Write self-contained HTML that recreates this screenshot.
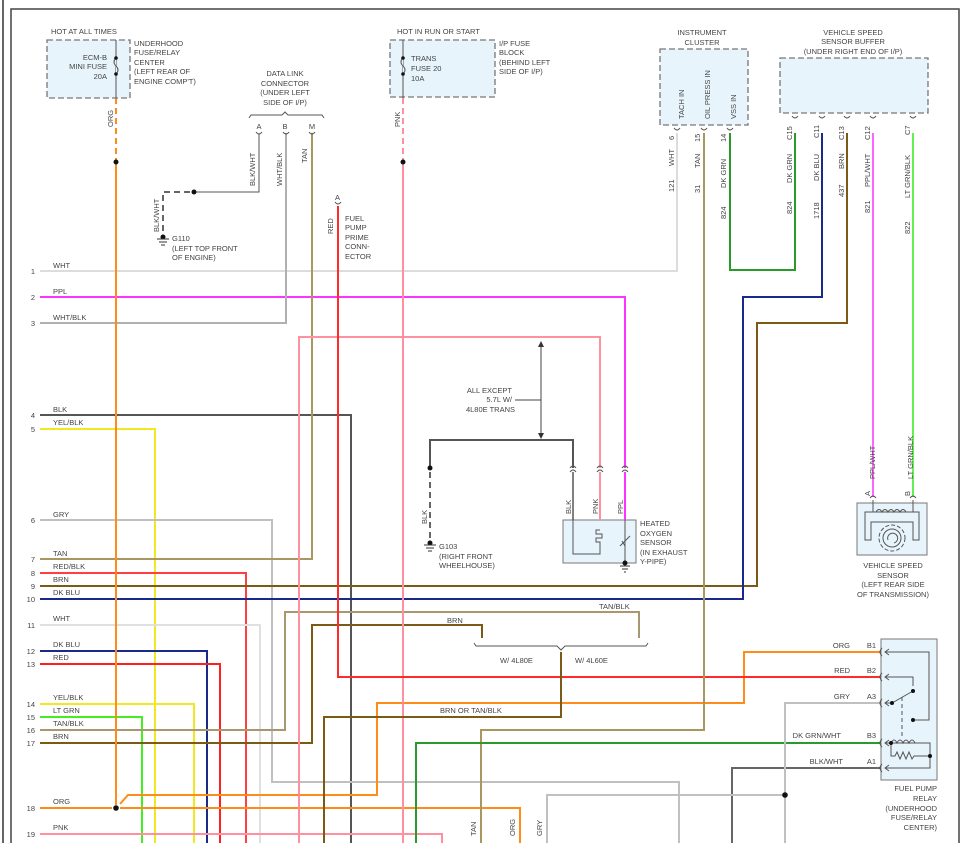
<!DOCTYPE html>
<html><head><meta charset="utf-8"><style>
html,body{margin:0;padding:0;background:#fff}
svg{display:block}
text{font-family:"Liberation Sans",sans-serif;font-size:7.5px;fill:#444}
.w{fill:none;stroke-width:2}
.t{fill:none;stroke:#555;stroke-width:1}
.box{fill:#e8f4fc;stroke:#777;stroke-width:1.3;stroke-dasharray:6,3}
.sbox{fill:#e8f4fc;stroke:#777;stroke-width:1}
</style></head><body>
<svg width="978" height="843" viewBox="0 0 978 843" xmlns="http://www.w3.org/2000/svg">
<!-- frame -->
<line x1="3" y1="0" x2="3" y2="843" stroke="#333" stroke-width="1.5"/>
<polyline points="11,843 11,9 959,9 959,843" fill="none" stroke="#444" stroke-width="1.5"/>

<!-- row numbers and labels -->
<g text-anchor="end">
<text x="35" y="274">1</text><text x="35" y="300">2</text><text x="35" y="326">3</text>
<text x="35" y="418">4</text><text x="35" y="432">5</text><text x="35" y="523">6</text>
<text x="35" y="562">7</text><text x="35" y="576">8</text><text x="35" y="589">9</text>
<text x="35" y="602">10</text><text x="35" y="628">11</text><text x="35" y="654">12</text>
<text x="35" y="667">13</text><text x="35" y="707">14</text><text x="35" y="720">15</text>
<text x="35" y="733">16</text><text x="35" y="746">17</text><text x="35" y="811">18</text>
<text x="35" y="837">19</text>
</g>
<g>
<text x="53" y="268">WHT</text><text x="53" y="294">PPL</text><text x="53" y="320">WHT/BLK</text>
<text x="53" y="412">BLK</text><text x="53" y="425">YEL/BLK</text><text x="53" y="517">GRY</text>
<text x="53" y="556">TAN</text><text x="53" y="569">RED/BLK</text><text x="53" y="582">BRN</text>
<text x="53" y="595">DK BLU</text><text x="53" y="621">WHT</text><text x="53" y="647">DK BLU</text>
<text x="53" y="660">RED</text><text x="53" y="700">YEL/BLK</text><text x="53" y="713">LT GRN</text>
<text x="53" y="726">TAN/BLK</text><text x="53" y="739">BRN</text><text x="53" y="804">ORG</text>
<text x="53" y="830">PNK</text>
</g>

<!-- wires -->
<polyline class="w" stroke="#dcdcdc" points="40,271 677,271 677,133"/>
<polyline class="w" stroke="#ff33ff" points="40,297 625,297 625,468"/>
<polyline class="w" stroke="#b0b0b0" points="40,323 286,323 286,133"/>
<polyline class="w" stroke="#555" points="40,415 351,415 351,843"/>
<polyline class="w" stroke="#f0e820" points="40,429 155,429 155,843"/>
<polyline class="w" stroke="#c0c0c0" points="40,520 272,520 272,782 679,782 679,843"/>
<polyline class="w" stroke="#a89860" points="40,559 312,559 312,133"/>
<polyline class="w" stroke="#ff4040" points="40,573 246,573 246,843"/>
<polyline class="w" stroke="#7a5a14" points="40,586 757,586 757,323 847,323 847,133"/>
<polyline class="w" stroke="#1a2a8a" points="40,599 743,599 743,297 822,297 822,133"/>
<polyline class="w" stroke="#e0e0e0" points="40,625 260,625 260,843"/>
<polyline class="w" stroke="#1a2a8a" points="40,651 207,651 207,843"/>
<polyline class="w" stroke="#ff2020" points="40,664 220,664 220,843"/>
<polyline class="w" stroke="#f0e820" points="40,704 194,704 194,843"/>
<polyline class="w" stroke="#44ee22" points="40,717 142,717 142,843"/>
<polyline class="w" stroke="#a89870" points="40,730 285,730 285,612 639,612 639,638"/>
<polyline class="w" stroke="#7a5a14" points="40,743 312,743 312,625 482,625 482,638"/>
<polyline class="w" stroke="#ff8c1a" points="40,808 112,808"/>
<polyline class="w" stroke="#ff8c1a" points="120,808 520,808 520,843"/>
<polyline class="w" stroke="#ff8c1a" points="120,804 128,795 377,795 377,703 744,703 744,652 880,652"/>
<polyline class="w" stroke="#ff90a0" points="40,834 442,834 442,843"/>
<!-- ORG from fuse -->
<line x1="116" y1="98" x2="116" y2="162" stroke="#ff8c1a" stroke-width="2" stroke-dasharray="6,4"/>
<line x1="116" y1="162" x2="116" y2="805" stroke="#ff8c1a" stroke-width="2"/>
<circle cx="116" cy="162" r="2.5" fill="#111"/>
<circle cx="116" cy="808" r="2.8" fill="#111"/>
<!-- PNK from trans fuse -->
<line x1="403" y1="98" x2="403" y2="162" stroke="#ff90a0" stroke-width="2" stroke-dasharray="6,4"/>
<line x1="403" y1="162" x2="403" y2="843" stroke="#ff90a0" stroke-width="2"/>
<circle cx="403" cy="162" r="2.5" fill="#111"/>
<polyline class="w" stroke="#ff90a0" points="299,843 299,337 600,337 600,468"/>
<!-- RED fuel pump prime -->
<polyline class="w" stroke="#ff2a2a" points="338,206 338,677 880,677"/>
<path d="M335,202 Q338,206 341,202" fill="none" stroke="#555"/>
<text x="335" y="200">A</text>
<text x="333" y="234" transform="rotate(-90 333 234)" text-anchor="start">RED</text>
<text x="345" y="221">FUEL</text><text x="345" y="230">PUMP</text><text x="345" y="240">PRIME</text><text x="345" y="249">CONN-</text><text x="345" y="259">ECTOR</text>
<!-- TAN oil press -->
<polyline class="w" stroke="#a89860" points="704,133 704,730 481,730 481,843"/>
<!-- DK GRN -->
<polyline class="w" stroke="#2a9a2a" points="730,133 730,270 795,270 795,133"/>
<polyline class="w" stroke="#ff66ff" points="873,133 873,497"/>
<polyline class="w" stroke="#66ee55" points="913,133 913,497"/>
<!-- brown bracket wire -->
<polyline class="w" stroke="#7a5a14" points="561,652 561,717 324,717 324,843"/>
<polyline class="w" stroke="#2a9a2a" points="416,843 416,743 880,743"/>
<polyline class="w" stroke="#666" points="732,843 732,768 880,768"/>
<polyline class="w" stroke="#c0c0c0" points="880,703 785,703 785,843"/>
<polyline class="w" stroke="#c0c0c0" points="547,843 547,795 785,795"/>
<circle cx="785" cy="795" r="2.8" fill="#111"/>
<text x="515" y="836" transform="rotate(-90 515 836)">ORG</text>
<text x="476" y="836" transform="rotate(-90 476 836)">TAN</text>
<text x="542" y="836" transform="rotate(-90 542 836)">GRY</text>
<text x="440" y="713">BRN OR TAN/BLK</text>
<text x="447" y="623">BRN</text>
<text x="599" y="609">TAN/BLK</text>
<!-- 4L80E/4L60E bracket -->
<path d="M474,643 L476,646 L557,646 L561,650 L565,646 L646,646 L648,643" fill="none" stroke="#555"/>
<text x="500" y="663">W/ 4L80E</text><text x="575" y="663">W/ 4L60E</text>

<!-- ECM-B box -->
<rect class="box" x="47" y="40" width="83" height="58"/>
<line x1="116" y1="40" x2="116" y2="98" stroke="#555"/>
<path d="M116,58 q-4,4 0,8 q4,4 0,8" fill="#e8f4fc" stroke="#555"/>
<circle cx="116" cy="58" r="1.8" fill="#111"/><circle cx="116" cy="74" r="1.8" fill="#111"/>
<text x="51" y="34">HOT AT ALL TIMES</text>
<g text-anchor="end"><text x="107" y="60">ECM-B</text><text x="107" y="69">MINI FUSE</text><text x="107" y="79">20A</text></g>
<text x="134" y="46">UNDERHOOD</text><text x="134" y="55">FUSE/RELAY</text><text x="134" y="65">CENTER</text><text x="134" y="74">(LEFT REAR OF</text><text x="134" y="84">ENGINE COMP'T)</text>
<text x="113" y="127" transform="rotate(-90 113 127)">ORG</text>

<!-- Trans box -->
<rect class="box" x="390" y="40" width="105" height="57"/>
<line x1="403" y1="40" x2="403" y2="98" stroke="#555"/>
<path d="M403,58 q-4,4 0,8 q4,4 0,8" fill="#e8f4fc" stroke="#555"/>
<circle cx="403" cy="58" r="1.8" fill="#111"/><circle cx="403" cy="74" r="1.8" fill="#111"/>
<text x="397" y="34">HOT IN RUN OR START</text>
<text x="411" y="61">TRANS</text><text x="411" y="71">FUSE 20</text><text x="411" y="81">10A</text>
<text x="499" y="46">I/P FUSE</text><text x="499" y="55">BLOCK</text><text x="499" y="65">(BEHIND LEFT</text><text x="499" y="74">SIDE OF I/P)</text>
<text x="400" y="127" transform="rotate(-90 400 127)">PNK</text>

<!-- Data link connector -->
<g text-anchor="middle"><text x="285" y="76">DATA LINK</text><text x="285" y="86">CONNECTOR</text><text x="285" y="95">(UNDER LEFT</text><text x="285" y="105">SIDE OF I/P)</text>
<text x="259" y="129">A</text><text x="285" y="129">B</text><text x="312" y="129">M</text></g>
<path d="M249,118 L251,115 L282,115 L285,112 L288,115 L322,115 L324,118" fill="none" stroke="#555"/>
<path d="M256,132 Q259,136 262,132 M283,132 Q286,136 289,132 M309,132 Q312,136 315,132" fill="none" stroke="#555"/>
<polyline class="t" points="259,134 259,192 196,192"/>
<circle cx="194" cy="192" r="2.5" fill="#111"/>
<polyline points="190,192 163,192 163,236" fill="none" stroke="#333" stroke-width="1.5" stroke-dasharray="6,4"/>
<circle cx="163" cy="237" r="2.5" fill="#111"/>
<path d="M157,239 h12 M159,242 h8 M161,245 h4" stroke="#333"/>
<text x="255" y="186" transform="rotate(-90 255 186)">BLK/WHT</text>
<text x="282" y="186" transform="rotate(-90 282 186)">WHT/BLK</text>
<text x="307" y="163" transform="rotate(-90 307 163)">TAN</text>
<text x="159" y="232" transform="rotate(-90 159 232)">BLK/WHT</text>
<text x="172" y="241">G110</text><text x="172" y="251">(LEFT TOP FRONT</text><text x="172" y="260">OF ENGINE)</text>

<!-- Instrument cluster -->
<g text-anchor="middle"><text x="702" y="35">INSTRUMENT</text><text x="702" y="45">CLUSTER</text></g>
<rect class="box" x="660" y="49" width="88" height="76"/>
<text x="684" y="119" transform="rotate(-90 684 119)">TACH IN</text>
<text x="710" y="119" transform="rotate(-90 710 119)">OIL PRESS IN</text>
<text x="736" y="119" transform="rotate(-90 736 119)">VSS IN</text>
<path d="M674,128 Q677,132 680,128 M701,128 Q704,132 707,128 M727,128 Q730,132 733,128" fill="none" stroke="#555"/>
<g>
<text x="674" y="140" transform="rotate(-90 674 140)">6</text>
<text x="674" y="166" transform="rotate(-90 674 166)">WHT</text>
<text x="674" y="192" transform="rotate(-90 674 192)">121</text>
<text x="700" y="142" transform="rotate(-90 700 142)">15</text>
<text x="700" y="168" transform="rotate(-90 700 168)">TAN</text>
<text x="700" y="193" transform="rotate(-90 700 193)">31</text>
<text x="726" y="142" transform="rotate(-90 726 142)">14</text>
<text x="726" y="188" transform="rotate(-90 726 188)">DK GRN</text>
<text x="726" y="219" transform="rotate(-90 726 219)">824</text>
</g>

<!-- VSS buffer -->
<g text-anchor="middle"><text x="853" y="35">VEHICLE SPEED</text><text x="853" y="44">SENSOR BUFFER</text><text x="853" y="54">(UNDER RIGHT END OF I/P)</text></g>
<rect class="box" x="780" y="58" width="148" height="55"/>
<path d="M792,116 Q795,120 798,116 M819,116 Q822,120 825,116 M844,116 Q847,120 850,116 M870,116 Q873,120 876,116 M910,116 Q913,120 916,116" fill="none" stroke="#555"/>
<g>
<text x="792" y="140" transform="rotate(-90 792 140)">C15</text>
<text x="792" y="183" transform="rotate(-90 792 183)">DK GRN</text>
<text x="792" y="214" transform="rotate(-90 792 214)">824</text>
<text x="819" y="138" transform="rotate(-90 819 138)">C11</text>
<text x="819" y="181" transform="rotate(-90 819 181)">DK BLU</text>
<text x="819" y="219" transform="rotate(-90 819 219)">1718</text>
<text x="844" y="140" transform="rotate(-90 844 140)">C13</text>
<text x="844" y="169" transform="rotate(-90 844 169)">BRN</text>
<text x="844" y="197" transform="rotate(-90 844 197)">437</text>
<text x="870" y="140" transform="rotate(-90 870 140)">C12</text>
<text x="870" y="187" transform="rotate(-90 870 187)">PPL/WHT</text>
<text x="870" y="213" transform="rotate(-90 870 213)">821</text>
<text x="910" y="135" transform="rotate(-90 910 135)">C7</text>
<text x="910" y="198" transform="rotate(-90 910 198)">LT GRN/BLK</text>
<text x="910" y="234" transform="rotate(-90 910 234)">822</text>
<text x="875" y="479" transform="rotate(-90 875 479)">PPL/WHT</text>
<text x="913" y="479" transform="rotate(-90 913 479)">LT GRN/BLK</text>
</g>

<!-- All except arrow -->
<line x1="541" y1="344" x2="541" y2="436" stroke="#444"/>
<path d="M538,347 L541,341 L544,347 Z M538,433 L541,439 L544,433 Z" fill="#333"/>
<line x1="515" y1="400" x2="541" y2="400" stroke="#444"/>
<g text-anchor="end"><text x="512" y="393">ALL EXCEPT</text><text x="512" y="402">5.7L W/</text><text x="515" y="412">4L80E TRANS</text></g>

<!-- O2 sensor -->
<polyline class="w" stroke="#555" stroke-width="1.8" points="573,468 573,440 430,440 430,466"/>
<circle cx="430" cy="468" r="2.5" fill="#111"/>
<line x1="430" y1="472" x2="430" y2="540" stroke="#333" stroke-width="1.5" stroke-dasharray="6,4"/>
<circle cx="430" cy="543" r="2.5" fill="#111"/>
<path d="M424,545 h12 M426,548 h8 M428,551 h4" stroke="#333"/>
<text x="427" y="524" transform="rotate(-90 427 524)">BLK</text>
<text x="439" y="549">G103</text><text x="439" y="559">(RIGHT FRONT</text><text x="439" y="568">WHEELHOUSE)</text>
<path d="M570,468 Q573,464 576,468 M570,472 Q573,468 576,472 M597,468 Q600,464 603,468 M597,472 Q600,468 603,472 M622,468 Q625,464 628,468 M622,472 Q625,468 628,472" fill="none" stroke="#555"/>
<rect class="sbox" x="563" y="520" width="73" height="43"/>
<line x1="573" y1="472" x2="573" y2="520" stroke="#555" stroke-width="1.5"/>
<line x1="600" y1="472" x2="600" y2="520" stroke="#ff90a0" stroke-width="2"/>
<line x1="625" y1="472" x2="625" y2="520" stroke="#ff33ff" stroke-width="2"/>
<polyline class="t" points="573,520 573,554 600,554 600,548 M600,520 600,530"/>
<path d="M600,530 h-4 v4 h6 v4 h-6 v4 h4 v6" fill="none" stroke="#555"/>
<line x1="625" y1="520" x2="625" y2="563" stroke="#555"/>
<path d="M620,546 L630,536 M625,546 l-3,-5" stroke="#555" fill="none"/>
<circle cx="625" cy="563" r="2.5" fill="#111"/>
<path d="M620,566 h10 M622,569 h6 M624,572 h2" stroke="#333"/>
<text x="571" y="514" transform="rotate(-90 571 514)">BLK</text>
<text x="598" y="514" transform="rotate(-90 598 514)">PNK</text>
<text x="623" y="514" transform="rotate(-90 623 514)">PPL</text>
<text x="640" y="526">HEATED</text><text x="640" y="536">OXYGEN</text><text x="640" y="545">SENSOR</text><text x="640" y="555">(IN EXHAUST</text><text x="640" y="564">Y-PIPE)</text>

<!-- VSS sensor -->
<rect class="sbox" x="857" y="503" width="70" height="52"/>
<path d="M870,498 Q873,494 876,498 M910,498 Q913,494 916,498" fill="none" stroke="#555"/>
<text x="870" y="496" transform="rotate(-90 870 496)" font-size="6">A</text>
<text x="910" y="496" transform="rotate(-90 910 496)" font-size="6">B</text>
<path d="M873,500 v12 M913,500 v12" stroke="#555"/>
<path d="M865,540 v-28 h54 v28 h-6 v-18 h-42 v18 z" fill="none" stroke="#555"/>
<path d="M876,512 q3,-5 6,0 q3,-5 6,0 q3,-5 6,0 q3,-5 6,0 q3,-5 6,0" fill="none" stroke="#555"/>
<circle cx="892" cy="538" r="9" fill="none" stroke="#555"/>
<circle cx="892" cy="538" r="13" fill="none" stroke="#555" stroke-dasharray="4,2"/>
<path d="M888,540 a5,5 0 1 1 6,3" fill="none" stroke="#555"/>
<g text-anchor="middle"><text x="893" y="568">VEHICLE SPEED</text><text x="893" y="578">SENSOR</text><text x="893" y="587">(LEFT REAR SIDE</text><text x="893" y="597">OF TRANSMISSION)</text></g>

<!-- Fuel pump relay -->
<rect class="sbox" x="881" y="639" width="56" height="141"/>
<g text-anchor="end">
<text x="850" y="648">ORG</text><text x="876" y="648">B1</text>
<text x="850" y="673">RED</text><text x="876" y="673">B2</text>
<text x="850" y="699">GRY</text><text x="876" y="699">A3</text>
<text x="841" y="738">DK GRN/WHT</text><text x="876" y="738">B3</text>
<text x="843" y="764">BLK/WHT</text><text x="876" y="764">A1</text>
<text x="937" y="791">FUEL PUMP</text><text x="937" y="801">RELAY</text><text x="937" y="811">(UNDERHOOD</text><text x="937" y="820">FUSE/RELAY</text><text x="937" y="830">CENTER)</text>
</g>
<path d="M882,648 Q878,652 882,656 M882,673 Q878,677 882,681 M882,699 Q878,703 882,707 M882,739 Q878,743 882,747 M882,764 Q878,768 882,772" fill="none" stroke="#555"/>
<path d="M889,649 l-4,3 4,3 M889,674 l-4,3 4,3 M889,700 l-4,3 4,3 M889,740 l-4,3 4,3 M889,765 l-4,3 4,3" fill="none" stroke="#555"/>
<polyline class="t" points="885,652 929,652 929,720 913,720"/>
<polyline class="t" points="885,677 913,677 913,686"/>
<polyline class="t" points="885,703 892,703 913,691"/>
<circle cx="913" cy="691" r="2" fill="#111"/><circle cx="892" cy="703" r="2" fill="#111"/><circle cx="913" cy="720" r="2" fill="#111"/>
<line x1="902" y1="697" x2="902" y2="737" stroke="#555" stroke-dasharray="4,3"/>
<polyline class="t" points="885,743 930,743 930,768 885,768"/>
<path d="M891,743 q3,-6 6,0 q3,-6 6,0 q3,-6 6,0 q3,-6 6,0" fill="none" stroke="#555"/>
<polyline class="t" points="891,743 891,756 895,756 897,752 900,759 903,752 906,759 909,752 912,759 914,756 930,756"/>
<circle cx="891" cy="743" r="2" fill="#111"/><circle cx="930" cy="756" r="2" fill="#111"/>
</svg>
</body></html>
